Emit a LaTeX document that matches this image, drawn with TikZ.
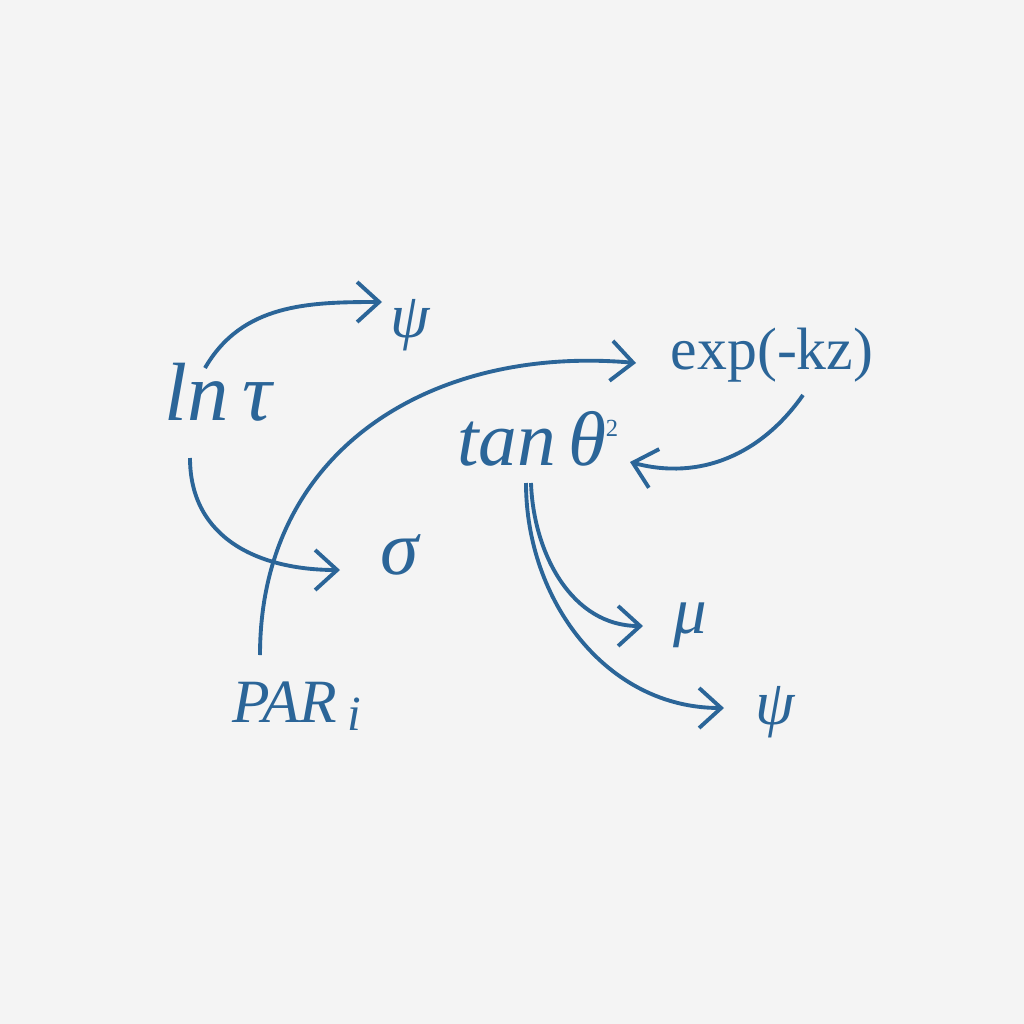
\documentclass[tikz,border=0pt]{standalone}
\usepackage{fontspec}
\setmainfont{Liberation Serif}
\usetikzlibrary{arrows.meta}
\definecolor{ink}{HTML}{2B6598}
\definecolor{bg}{HTML}{F4F4F4}
\begin{document}
\begin{tikzpicture}[x=0.01cm,y=-0.01cm,
  lab/.style={text=ink,inner sep=0pt,font=\itshape},
  con/.style={draw=ink,line width=1.1pt,-{Straight Barb[length=2.2mm,width=4mm,line width=1.1pt]}}]
\fill[bg] (0,0) rectangle (1024,1024);
\node[lab,font=\fontsize{23.5}{28}\selectfont\itshape] (ln) at (218,392) {ln\,τ};
\node[lab,font=\fontsize{18}{22}\selectfont\itshape] (psa) at (410,325) {ψ};
\node[lab,font=\fontsize{17}{20}\selectfont] (exp) at (772,355) {exp(-kz)};
\node[lab,font=\fontsize{22}{26}\selectfont\itshape,anchor=base] (tan) at (532,465) {tan\,θ};
\node[lab,font=\fontsize{7}{7}\selectfont] (sq) at (612,428) {2};
\node[lab,font=\fontsize{22}{26}\selectfont\itshape] (sig) at (400,555) {σ};
\node[lab,font=\fontsize{19}{22}\selectfont\itshape] (mu) at (690,625) {μ};
\node[lab,font=\fontsize{18}{22}\selectfont\itshape] (psb) at (775,712) {ψ};
\node[lab,font=\fontsize{17.5}{22}\selectfont\itshape,anchor=base] (par) at (297,722) {PAR\,\raisebox{-0.3ex}{\fontsize{14}{14}\selectfont\itshape i}};
\coordinate (a1) at (205,368); \coordinate (b1) at (382,302);
\coordinate (a2) at (190,458); \coordinate (b2) at (340,570);
\coordinate (a3) at (260,655); \coordinate (b3) at (636,363);
\coordinate (a4) at (803,395); \coordinate (b4) at (630,462);
\coordinate (a5) at (531,483); \coordinate (b5) at (643,626);
\coordinate (a6) at (526,483); \coordinate (b6) at (724,708);
\draw[con] (a1) to[out=60,in=180,looseness=1] (b1);
\draw[con] (a2) to[out=-90,in=180,looseness=1.1] (b2);
\draw[con] (a3) to[out=90,in=175,looseness=1.1] (b3);
\draw[con] (a4) to[out=-125,in=-15,looseness=1] (b4);
\draw[con] (a5) to[out=-88,in=180,looseness=1] (b5);
\draw[con] (a6) to[out=-90,in=180,looseness=1] (b6);
\end{tikzpicture}
\end{document}
